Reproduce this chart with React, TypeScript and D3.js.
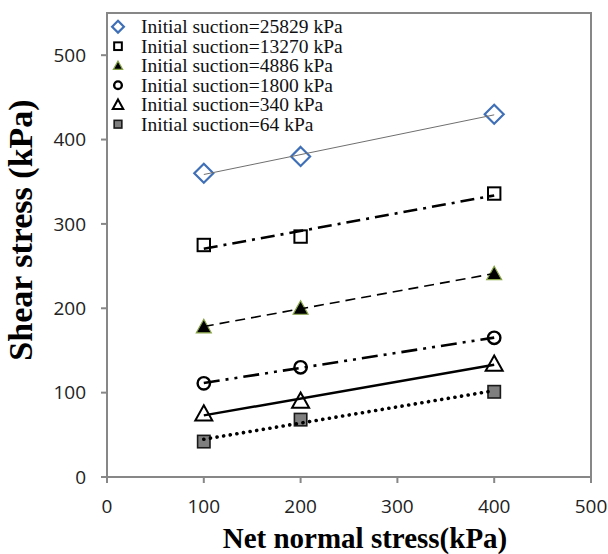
import React from "react";
import * as d3 from "d3";

// Net normal stress levels (kPa)
const netStress = [100, 200, 400];

// Shear stress at failure (kPa) for each initial suction
const suction25829 = [360, 380, 430];
const suction13270 = [275, 285, 336];
const suction4886 = [178, 200, 241];
const suction1800 = [111, 130, 165];
const suction340 = [75, 90, 134];
const suction64 = [42, 68, 101];

const legendLabels = [
  "Initial suction=25829 kPa",
  "Initial suction=13270 kPa",
  "Initial suction=4886 kPa",
  "Initial suction=1800 kPa",
  "Initial suction=340 kPa",
  "Initial suction=64 kPa",
];

const xTicks = [0, 100, 200, 300, 400, 500];
const yTicks = [0, 100, 200, 300, 400, 500];

type MarkerKind = "diamond" | "square" | "triFill" | "circle" | "triOpen" | "graySquare";

interface Series {
  values: number[];
  label: string;
  marker: MarkerKind;
  line: { stroke: string; width: number; dash?: string; cap?: "round" | "butt" };
}

const series: Series[] = [
  { values: suction25829, label: legendLabels[0], marker: "diamond", line: { stroke: "#6f6f6f", width: 1 } },
  { values: suction13270, label: legendLabels[1], marker: "square", line: { stroke: "#000", width: 2.6, dash: "14 6 3 6" } },
  { values: suction4886, label: legendLabels[2], marker: "triFill", line: { stroke: "#000", width: 1.6, dash: "10 6" } },
  { values: suction1800, label: legendLabels[3], marker: "circle", line: { stroke: "#000", width: 2.6, dash: "16 6 3 6 3 6" } },
  { values: suction340, label: legendLabels[4], marker: "triOpen", line: { stroke: "#000", width: 2.4 } },
  { values: suction64, label: legendLabels[5], marker: "graySquare", line: { stroke: "#000", width: 3.6, dash: "0.1 6.6", cap: "round" } },
];

// least-squares trendline
function fit(xv: number[], yv: number[]) {
  const mx = d3.mean(xv)!;
  const my = d3.mean(yv)!;
  let num = 0;
  let den = 0;
  xv.forEach((x, i) => {
    num += (x - mx) * (yv[i] - my);
    den += (x - mx) * (x - mx);
  });
  const slope = num / den;
  const intercept = my - slope * mx;
  return (x: number) => intercept + slope * x;
}

function Marker({ kind, x, y, s = 1 }: { kind: MarkerKind; x: number; y: number; s?: number }) {
  switch (kind) {
    case "diamond": {
      const r = 9.5 * s;
      return (
        <path
          d={`M${x},${y - r}L${x + r},${y}L${x},${y + r}L${x - r},${y}Z`}
          fill="none"
          stroke="#3f6fb6"
          strokeWidth={2.2}
        />
      );
    }
    case "square": {
      const h = 6.2 * s;
      return <rect x={x - h} y={y - h} width={2 * h} height={2 * h} fill="none" stroke="#000" strokeWidth={2} />;
    }
    case "graySquare": {
      const h = 6.2 * s;
      return <rect x={x - h} y={y - h} width={2 * h} height={2 * h} fill="#7f7f7f" stroke="#1a1a1a" strokeWidth={1.6} />;
    }
    case "triFill": {
      const h = 7.5 * s;
      return (
        <path
          d={`M${x},${y - h}L${x + h},${y + h * 0.8}L${x - h},${y + h * 0.8}Z`}
          fill="#000"
          stroke="#8aa64a"
          strokeWidth={1.2}
        />
      );
    }
    case "triOpen": {
      const h = 8.5 * s;
      return (
        <path
          d={`M${x},${y - h}L${x + h},${y + h * 0.8}L${x - h},${y + h * 0.8}Z`}
          fill="none"
          stroke="#000"
          strokeWidth={2}
        />
      );
    }
    case "circle":
      return <circle cx={x} cy={y} r={6.2 * s} fill="none" stroke="#000" strokeWidth={2.4} />;
  }
}

export default function App() {
  const width = 608;
  const height = 554;
  const left = 107;
  const right = 591;
  const top = 13;
  const bottom = 477;

  const x = d3.scaleLinear().domain([0, 500]).range([left, right]);
  const y = d3.scaleLinear().domain([0, 550]).range([bottom, top]);

  const tickFont = "'Open Sans', 'DejaVu Sans', sans-serif";
  const serif = "'Liberation Serif', 'Times New Roman', serif";

  return (
    <svg
      width={width}
      height={height}
      viewBox={`0 0 ${width} ${height}`}
      style={{ position: "absolute", left: 0, top: 0, background: "#fff" }}
    >
      <rect x={0} y={0} width={width} height={height} fill="#fff" />

      {/* plot frame */}
      <rect x={left} y={top} width={right - left} height={bottom - top} fill="none" stroke="#878787" strokeWidth={2} />

      {/* y ticks */}
      {yTicks.map((t) => (
        <g key={`y${t}`}>
          <line x1={left - 6} x2={left} y1={y(t)} y2={y(t)} stroke="#878787" strokeWidth={2} />
          <text
            x={86}
            y={y(t)}
            dy="0.36em"
            textAnchor="end"
            fontFamily={tickFont}
            fontSize={19}
            fill="#222"
          >
            {t}
          </text>
        </g>
      ))}

      {/* x ticks */}
      {xTicks.map((t) => (
        <g key={`x${t}`}>
          <line x1={x(t)} x2={x(t)} y1={bottom} y2={bottom + 6} stroke="#878787" strokeWidth={2} />
          <text
            x={x(t)}
            y={bottom + 29}
            dy="0.36em"
            textAnchor="middle"
            fontFamily={tickFont}
            fontSize={19}
            fill="#222"
          >
            {t}
          </text>
        </g>
      ))}

      {/* markers */}
      {series.map((s, si) => (
        <g key={`m${si}`}>
          {s.values.map((v, i) => (
            <Marker key={i} kind={s.marker} x={x(netStress[i])} y={y(v)} />
          ))}
        </g>
      ))}

      {/* linear trendlines */}
      {series.map((s, si) => {
        const f = fit(netStress, s.values);
        const x0 = d3.min(netStress)!;
        const x1 = d3.max(netStress)!;
        return (
          <line
            key={`l${si}`}
            x1={x(x0)}
            y1={y(f(x0))}
            x2={x(x1)}
            y2={y(f(x1))}
            stroke={s.line.stroke}
            strokeWidth={s.line.width}
            strokeDasharray={s.line.dash}
            strokeLinecap={s.line.cap ?? "butt"}
          />
        );
      })}

      {/* legend */}
      {series.map((s, si) => {
        const ly = 26.7 + si * 19.5;
        return (
          <g key={`lg${si}`}>
            <Marker kind={s.marker} x={118} y={ly} s={0.62} />
            <text x={141} y={ly} dy="0.33em" fontFamily={serif} fontSize={19.5} fill="#111">
              {s.label}
            </text>
          </g>
        );
      })}

      {/* axis titles */}
      <text
        x={365}
        y={538}
        dy="0.35em"
        textAnchor="middle"
        fontFamily={serif}
        fontWeight="bold"
        fontSize={29}
        fill="#000"
      >
        Net normal stress(kPa)
      </text>
      <text
        transform="translate(20, 230) rotate(-90)"
        textAnchor="middle"
        dy="0.35em"
        fontFamily={serif}
        fontWeight="bold"
        fontSize={34}
        fill="#000"
      >
        Shear stress (kPa)
      </text>
    </svg>
  );
}
